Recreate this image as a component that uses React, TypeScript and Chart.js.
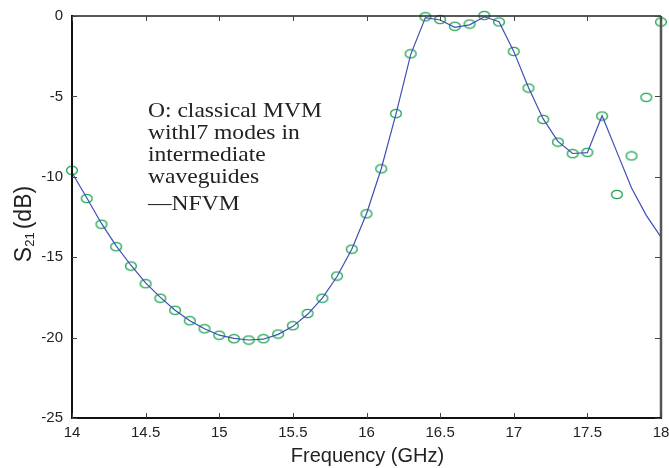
import React, { useEffect, useRef } from "react";
import { Chart, registerables } from "chart.js";

Chart.register(...registerables);

const freqs: number[] = [
  14.0, 14.1, 14.2, 14.3, 14.4, 14.5, 14.6, 14.7, 14.8, 14.9,
  15.0, 15.1, 15.2, 15.3, 15.4, 15.5, 15.6, 15.7, 15.8, 15.9,
  16.0, 16.1, 16.2, 16.3, 16.4, 16.5, 16.6, 16.7, 16.8, 16.9,
  17.0, 17.1, 17.2, 17.3, 17.4, 17.5, 17.6, 17.7, 17.8, 17.9, 18.0,
];

const mvmValues: number[] = [
  -9.6, -11.35, -12.95, -14.35, -15.55, -16.65, -17.55, -18.3, -18.95, -19.45,
  -19.85, -20.07, -20.15, -20.07, -19.78, -19.26, -18.5, -17.55, -16.17, -14.5,
  -12.3, -9.5, -6.07, -2.35, -0.05, -0.22, -0.64, -0.5, 0.03, -0.37,
  -2.2, -4.48, -6.43, -7.84, -8.56, -8.48, -6.22, -11.1, -8.7, -5.06, -0.37,
];

const nfvmValues: number[] = [
  -9.75, -11.3, -12.9, -14.3, -15.5, -16.6, -17.5, -18.3, -18.95, -19.45,
  -19.85, -20.05, -20.15, -20.1, -19.8, -19.3, -18.55, -17.55, -16.2, -14.5,
  -12.3, -9.5, -6.1, -2.4, -0.1, -0.25, -0.7, -0.55, -0.05, -0.35,
  -2.2, -4.45, -6.4, -7.8, -8.55, -8.5, -6.2, -8.45, -10.7, -12.4, -13.75,
];

const xTicks: number[] = [14, 14.5, 15, 15.5, 16, 16.5, 17, 17.5, 18];
const yTicks: number[] = [0, -5, -10, -15, -20, -25];

const annotationLines: string[] = [
  "O: classical MVM",
  "withl7 modes in",
  "intermediate",
  "waveguides",
  "\u2014NFVM",
];

const xTitle = "Frequency (GHz)";
const yTitleMain = "S";
const yTitleSub = "21";
const yTitleRest = "(dB)";

const GREEN = "#1fa552";
const BLUE = "#3f4fb5";
const SANS = "'Liberation Sans', Arial, sans-serif";

function makeEllipse(): HTMLCanvasElement {
  const c = document.createElement("canvas");
  c.width = 14;
  c.height = 11;
  const ctx = c.getContext("2d")!;
  ctx.strokeStyle = GREEN;
  ctx.lineWidth = 1.3;
  ctx.beginPath();
  ctx.ellipse(7, 5.5, 5.4, 4.2, 0, 0, Math.PI * 2);
  ctx.stroke();
  return c;
}

const framePlugin = {
  id: "frame",
  afterDraw(chart: any) {
    const { ctx, chartArea } = chart;
    const xs = chart.scales.x;
    const ys = chart.scales.y;
    const { left, right, top, bottom } = chartArea;
    ctx.save();
    ctx.strokeStyle = "#222";
    ctx.lineWidth = 1.5;
    ctx.beginPath();
    ctx.moveTo(left, top);
    ctx.lineTo(right, top);
    ctx.stroke();
    ctx.strokeStyle = "#555";
    ctx.lineWidth = 2.5;
    ctx.beginPath();
    ctx.moveTo(right, top);
    ctx.lineTo(right, bottom);
    ctx.stroke();
    ctx.strokeStyle = "#111";
    ctx.lineWidth = 2;
    ctx.beginPath();
    ctx.moveTo(left, top - 1);
    ctx.lineTo(left, bottom);
    ctx.lineTo(right + 1, bottom);
    ctx.stroke();
    ctx.strokeStyle = "#444";
    ctx.lineWidth = 1;
    for (const v of xTicks) {
      const px = Math.round(xs.getPixelForValue(v)) + 0.5;
      ctx.beginPath();
      ctx.moveTo(px, bottom);
      ctx.lineTo(px, bottom - 5);
      ctx.moveTo(px, top);
      ctx.lineTo(px, top + 5);
      ctx.stroke();
    }
    for (const v of yTicks) {
      const py = Math.round(ys.getPixelForValue(v)) + 0.5;
      ctx.beginPath();
      ctx.moveTo(left, py);
      ctx.lineTo(left + 5, py);
      ctx.moveTo(right, py);
      ctx.lineTo(right - 6, py);
      ctx.stroke();
    }
    // annotation
    ctx.save();
    ctx.fillStyle = "#222";
    ctx.font = "22px 'Liberation Serif', 'Times New Roman', serif";
    ctx.textBaseline = "alphabetic";
    ctx.textAlign = "left";
    ctx.translate(148, 0);
    ctx.scale(1.07, 1);
    const baselines = [117, 139, 161, 183, 210];
    annotationLines.forEach((t, i) => ctx.fillText(t, 0, baselines[i]));
    ctx.restore();
    // x title
    ctx.fillStyle = "#222";
    ctx.font = `20px ${SANS}`;
    ctx.textAlign = "center";
    ctx.textBaseline = "alphabetic";
    ctx.fillText(xTitle, (left + right) / 2 + 1, 462);
    // y title with subscript
    ctx.textAlign = "left";
    ctx.translate(31, 224);
    ctx.rotate(-Math.PI / 2);
    ctx.font = `23px ${SANS}`;
    const wS = ctx.measureText(yTitleMain).width;
    const wRest = ctx.measureText(yTitleRest).width;
    ctx.font = `13px ${SANS}`;
    const w21 = ctx.measureText(yTitleSub).width;
    const gap = 3;
    const total = wS + w21 + gap + wRest;
    let x0 = -total / 2;
    ctx.font = `23px ${SANS}`;
    ctx.fillText(yTitleMain, x0, 0);
    x0 += wS;
    ctx.font = `13px ${SANS}`;
    ctx.fillText(yTitleSub, x0, 3);
    x0 += w21 + gap;
    ctx.font = `23px ${SANS}`;
    ctx.fillText(yTitleRest, x0, 0);
    ctx.restore();
  },
};

export default function App() {
  const ref = useRef<HTMLCanvasElement | null>(null);
  useEffect(() => {
    document.body.style.margin = "0";
    const ellipse = makeEllipse();
    const chart = new Chart(ref.current!, {
      type: "line",
      data: {
        datasets: [
          {
            label: "NFVM",
            data: freqs.map((f, i) => ({ x: f, y: nfvmValues[i] })),
            borderColor: BLUE,
            borderWidth: 1.2,
            pointRadius: 0,
            tension: 0,
            fill: false,
          },
          {
            label: "MVM",
            data: freqs.map((f, i) => ({ x: f, y: mvmValues[i] })),
            showLine: false,
            pointStyle: ellipse as any,
            pointRadius: 6,
            borderColor: GREEN,
            backgroundColor: "transparent",
          },
        ],
      },
      options: {
        animation: false,
        responsive: false,
        maintainAspectRatio: false,
        clip: false as any,
        layout: { padding: { top: 16, right: 8, left: 0, bottom: 0 } },
        plugins: {
          legend: { display: false },
          tooltip: { enabled: false },
        },
        scales: {
          x: {
            type: "linear",
            min: 14,
            max: 18,
            afterBuildTicks: (s: any) => {
              s.ticks = xTicks.map((v) => ({ value: v }));
            },
            afterFit: (s: any) => {
              s.height = 50;
              s.paddingLeft = 0;
              s.paddingRight = 0;
            },
            grid: { display: false, drawTicks: false },
            border: { display: false },
            ticks: {
              color: "#222",
              padding: 6,
              font: { family: SANS, size: 15 },
              maxRotation: 0,
              autoSkip: false,
              callback: (v: any) => String(v),
            },
          },
          y: {
            type: "linear",
            min: -25,
            max: 0,
            afterBuildTicks: (s: any) => {
              s.ticks = yTicks.map((v) => ({ value: v }));
            },
            afterFit: (s: any) => {
              s.width = 72;
              s.paddingTop = 0;
              s.paddingBottom = 0;
            },
            grid: { display: false, drawTicks: false },
            border: { display: false },
            ticks: {
              color: "#222",
              padding: 9,
              font: { family: SANS, size: 15 },
              callback: (v: any) => String(v),
            },
          },
        },
      },
      plugins: [framePlugin],
    });
    return () => chart.destroy();
  }, []);
  return (
    <div style={{ position: "absolute", left: 0, top: 0, width: 669, height: 468, background: "#fff" }}>
      <canvas ref={ref} width={669} height={468} />
    </div>
  );
}
